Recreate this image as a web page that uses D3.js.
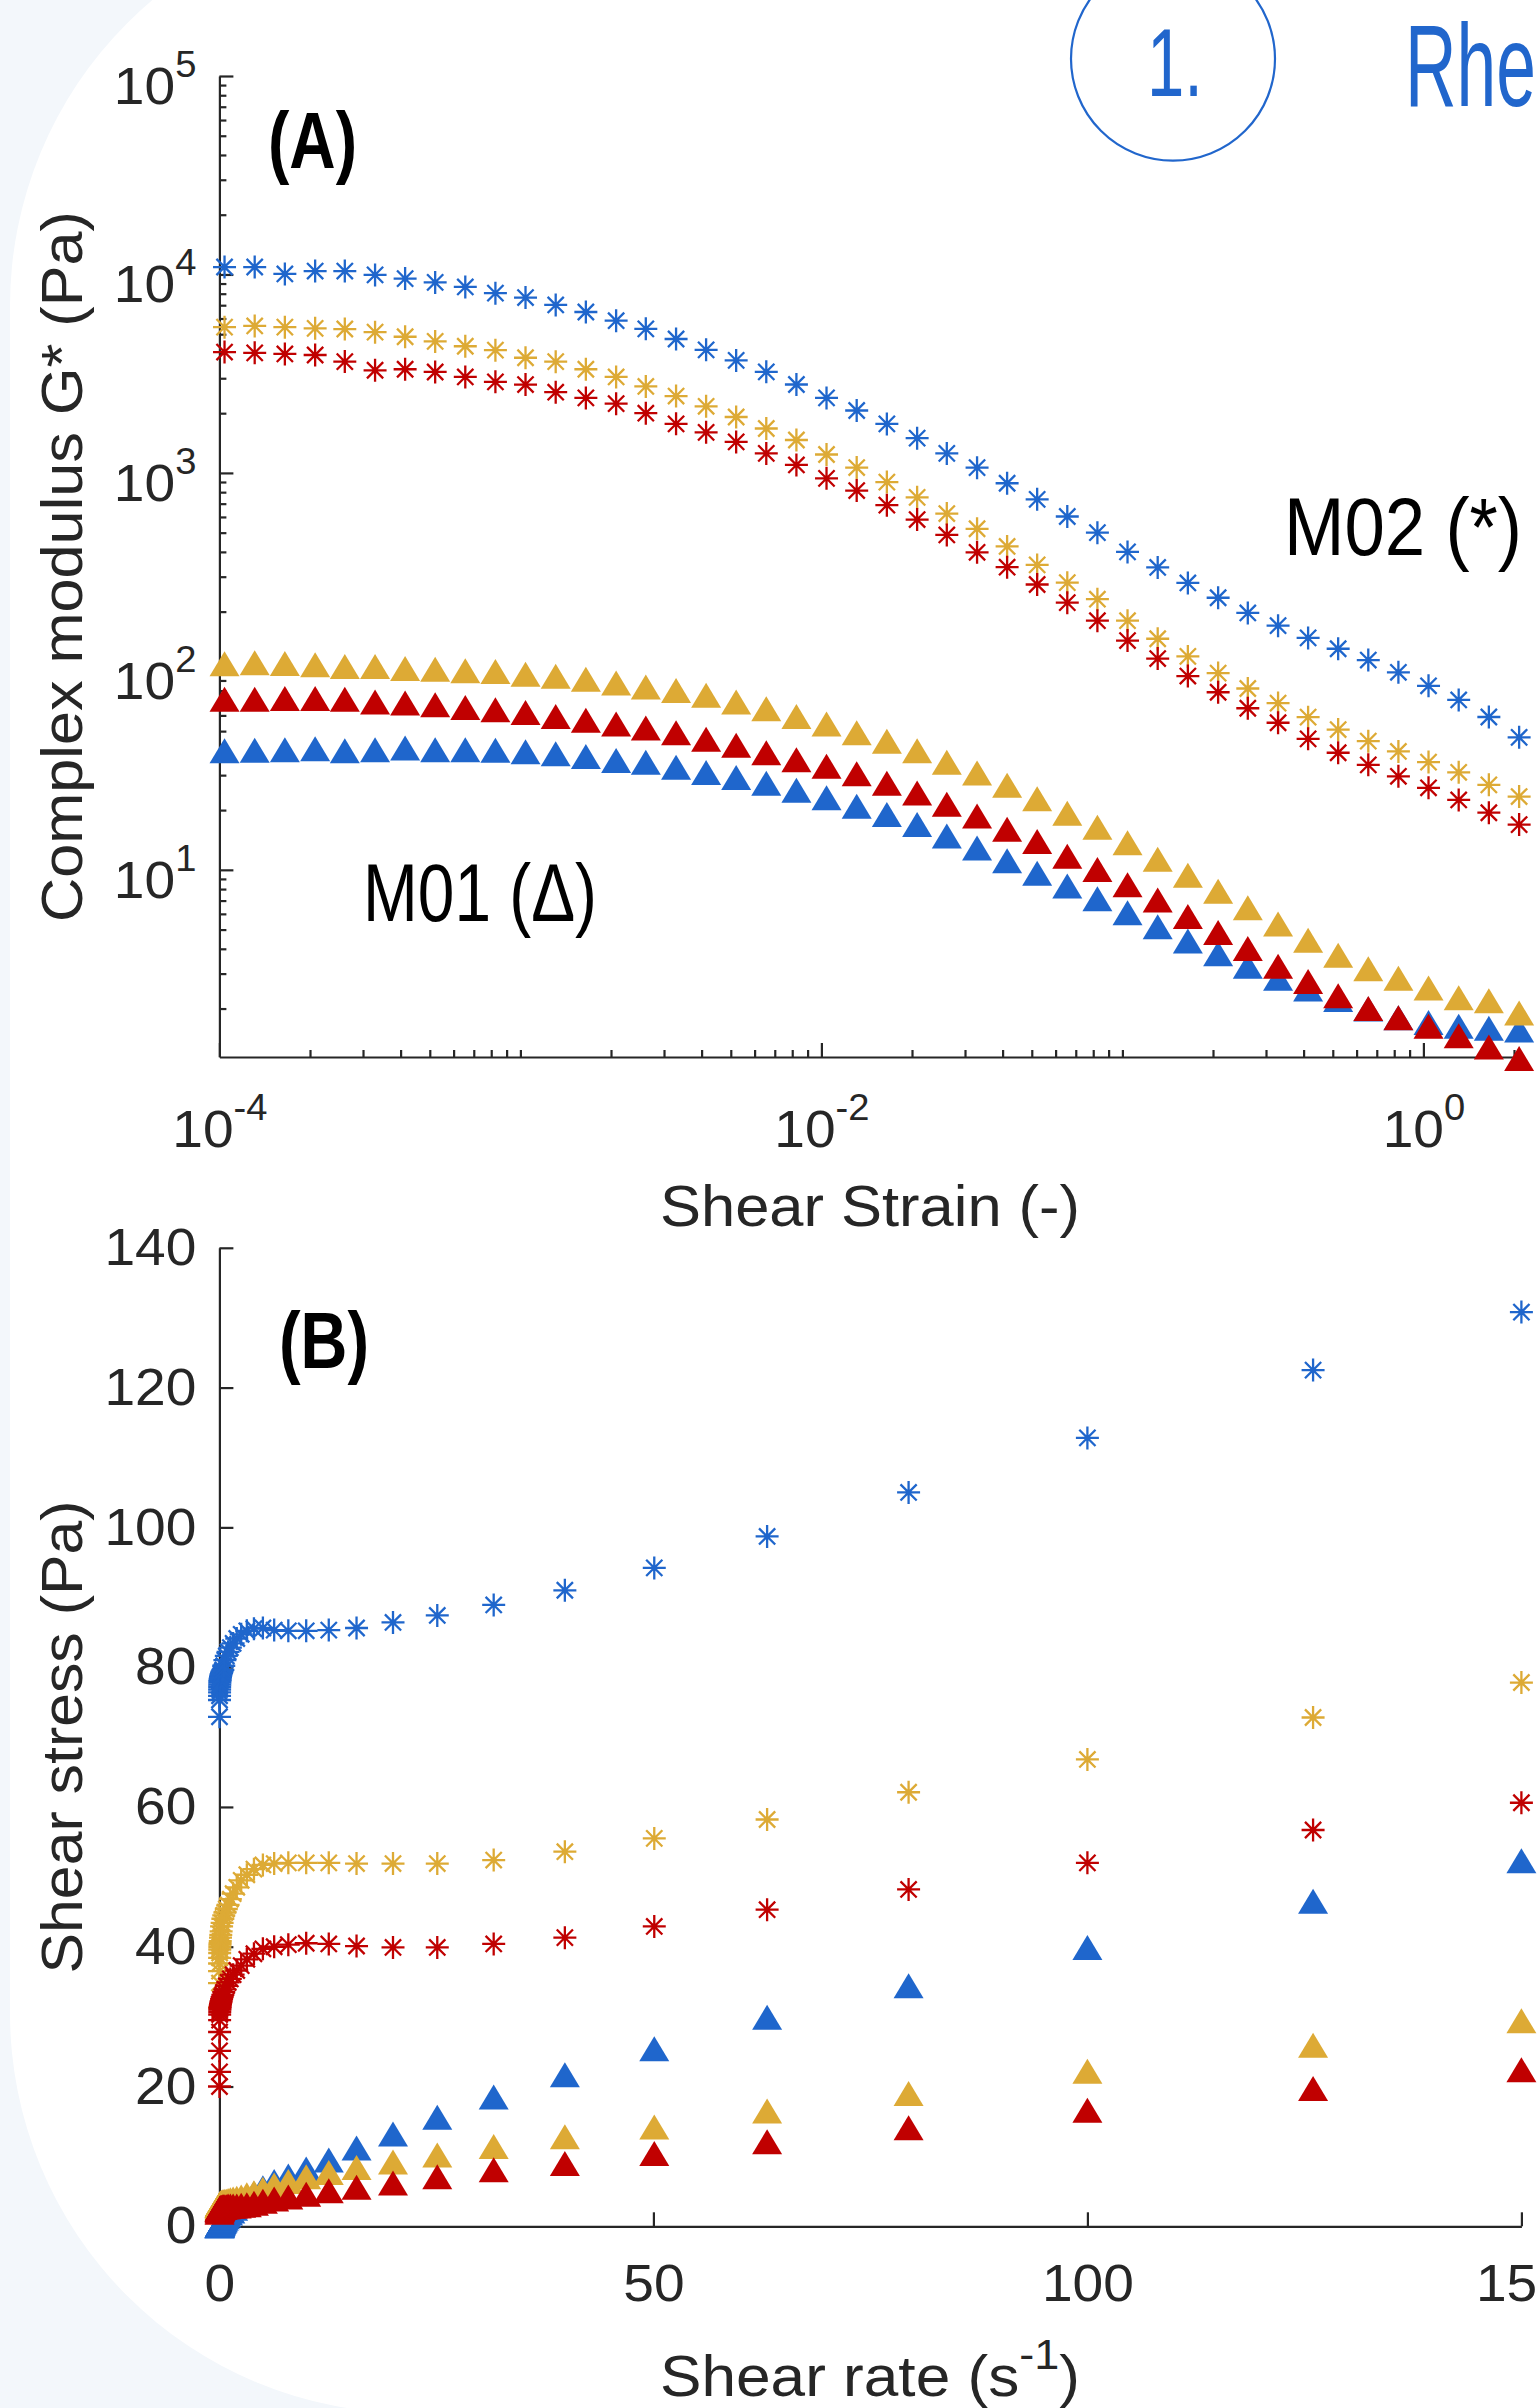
<!DOCTYPE html>
<html><head><meta charset="utf-8">
<script src="https://cdn.jsdelivr.net/npm/d3@7"></script>
<style>
html,body{margin:0;padding:0;background:#fff;overflow:hidden}
svg{display:block}
</style></head><body>
<svg id="chart" width="1539" height="2408"></svg>
<script>
// ---------------- DATA ----------------
// Panel A: amplitude sweep, complex modulus G* (Pa) vs shear strain (-)
const strainA = [1.04e-4,1.31e-4,1.65e-4,2.08e-4,2.61e-4,3.29e-4,4.14e-4,5.21e-4,6.56e-4,8.26e-4,
  1.04e-3,1.31e-3,1.65e-3,2.08e-3,2.61e-3,3.29e-3,4.14e-3,5.21e-3,6.56e-3,8.26e-3,
  0.0104,0.0131,0.0165,0.0208,0.0261,0.0329,0.0414,0.0521,0.0656,0.0826,
  0.104,0.131,0.165,0.208,0.261,0.329,0.414,0.521,0.656,0.826,
  1.04,1.31,1.65,2.08];
const gM02Blue = [10900,10900,10060,10400,10400,9950,9530,9120,8650,8050,
  7650,7020,6470,5850,5320,4730,4170,3690,3230,2790,
  2388,2063,1766,1497,1254,1063,887,736,603,500,
  400,334,279,235,197,170,147.5,130,114,98.9,
  84.6,71.8,58.9,46.5];
const gM02Yellow = [5426,5504,5426,5352,5309,5121,4853,4600,4348,4155,
  3805,3636,3329,3045,2727,2440,2166,1913,1674,1465,
  1238,1064,899,753,624,523,426,344,280,231,
  180,146,119,98,82,69.2,58.8,50.9,44.5,39.5,
  34.9,31.0,26.8,23.4];
const gM02Red = [4064,4027,3977,3927,3638,3290,3329,3226,3045,2877,
  2788,2551,2388,2234,2000,1767,1601,1433,1254,1097,
  939,815,688,582,487,398,335,274,222,180,
  143,116,94.7,78.5,65.2,55.1,45.7,38.9,33.8,29.6,
  25.9,22.5,19.4,16.9];
const gM01Blue = [39.8,40.1,40.3,40.7,39.8,40.3,41.1,40.3,40.3,40.1,
  39.3,38.4,37.2,35.6,34.8,32.9,30.9,29.2,27.3,25.2,
  23.1,20.9,19.0,16.9,14.8,12.9,11.1,9.6,8.3,7.14,
  6.08,5.16,4.38,3.78,3.27,2.84,2.51,2.22,1.99,1.80,
  1.70,1.63,1.59,1.56];
const gM01Yellow = [109.1,110.5,109.5,108.1,105.7,105.7,103.4,102.5,100.7,99.8,
  96.7,94.6,91.3,87.3,83.5,80.0,75.8,70.0,64.9,59.3,
  54.3,49.1,44.5,39.8,34.8,30.8,26.7,22.8,19.3,16.4,
  13.7,11.3,9.40,7.80,6.45,5.33,4.42,3.71,3.17,2.84,
  2.54,2.27,2.19,1.90];
const gM01Red = [72.4,72.4,73.1,73.1,72.4,70.0,69.3,67.8,65.7,64.0,
  62.1,59.3,56.8,54.3,51.9,49.1,45.5,42.5,38.9,35.9,
  33.3,30.5,27.3,24.4,21.4,18.7,16.0,13.9,11.7,10.05,
  8.41,7.05,5.82,4.83,4.01,3.27,2.74,2.32,2.00,1.80,
  1.63,1.46,1.28,1.12];

// Panel B: flow curve, shear stress (Pa) vs shear rate (1/s)
const shearRate = [0.01,0.0126,0.0158,0.02,0.0251,0.0316,0.0398,0.0501,0.0631,0.0794,
  0.1,0.126,0.158,0.2,0.251,0.316,0.398,0.501,0.631,0.794,
  1.0,1.26,1.58,2.0,2.51,3.16,3.98,5.01,6.31,7.94,
  10,12.6,15.8,20,25.1,31.6,39.8,50.1,63.1,79.4,
  100,126,150];
const tauM02Blue = [72.9,75.3,75.9,76.4,76.8,77.2,77.5,77.8,78.0,78.2,
  78.4,78.6,78.8,79.0,79.2,79.4,79.6,80.2,81.0,81.6,
  82.2,82.8,83.4,84.1,84.7,85.2,85.5,85.6,85.3,85.2,
  85.2,85.3,85.6,86.4,87.4,88.9,91.0,94.2,98.7,105.0,
  112.8,122.5,130.8];
const tauM02Yellow = [31.3,34.8,36.5,37.6,38.4,39.1,39.6,40.0,40.3,40.5,
  40.8,41.3,41.7,42.2,42.9,43.4,44.0,44.5,44.9,45.4,
  46.0,46.8,47.6,48.5,49.5,50.3,51.1,51.7,51.9,52.0,
  52.0,52.0,51.9,51.9,51.9,52.4,53.6,55.5,58.2,62.1,
  66.8,72.8,77.8];
const tauM02Red = [20.0,22.1,25.1,27.8,29.5,30.3,30.7,31.0,31.2,31.4,
  31.6,31.8,32.0,32.2,32.5,32.8,33.1,33.5,33.9,34.4,
  34.9,35.4,36.0,36.6,37.3,38.2,39.0,39.7,40.0,40.3,
  40.5,40.4,40.1,39.9,39.9,40.4,41.3,42.9,45.3,48.2,
  52.0,56.7,60.6];
const tauM01Blue = [0.07,0.08,0.09,0.11,0.13,0.15,0.18,0.21,0.25,0.29,
  0.34,0.40,0.48,0.57,0.68,0.80,0.95,1.15,1.35,1.6,
  1.9,2.2,2.6,3.1,3.6,4.2,4.7,5.5,6.4,7.2,
  8.2,9.5,11.2,13.2,15.6,18.5,21.7,25.4,29.9,34.4,
  39.9,46.5,52.3];
const tauM01Yellow = [2.6,2.8,2.9,3.0,3.0,3.1,3.1,3.2,3.2,3.2,
  3.3,3.3,3.3,3.4,3.4,3.4,3.5,3.5,3.6,3.6,
  3.7,3.8,3.9,4.0,4.2,4.5,4.8,5.3,5.9,6.4,
  7.1,7.7,8.4,9.2,10.2,11.4,12.8,14.2,16.5,19.0,
  22.2,25.9,29.4];
const tauM01Red = [2.0,2.2,2.3,2.4,2.4,2.5,2.5,2.5,2.6,2.6,
  2.6,2.6,2.7,2.7,2.7,2.7,2.8,2.8,2.8,2.8,
  2.9,2.9,2.9,2.9,3.0,3.1,3.3,3.6,3.9,4.2,
  4.6,5.1,5.6,6.2,7.1,8.1,9.0,10.4,12.1,14.1,
  16.6,19.7,22.4];

// axis limits and ticks
const strainLimits = [1e-4, 2.11];
const modulusLimits = [1.14, 1e5];
const strainTicks = [1e-4, 1e-2, 1];
const modulusTicks = [10, 100, 1000, 1e4, 1e5];
const rateLimits = [0, 150];
const stressLimits = [0, 140];
const rateTicks = [0, 50, 100, 150];
const stressTicks = [0, 20, 40, 60, 80, 100, 120, 140];

// texts
const panelLabels = ["(A)", "(B)"];
const groupLabels = ["M02 (*)", "M01 (\u0394)"];
const titleA_x = "Shear Strain (-)";
const titleA_y = "Complex modulus G* (Pa)";
const titleB_x = ["Shear rate (s", "-1", ")"];
const titleB_y = "Shear stress (Pa)";
const headerNumber = "1.";
const headerTitle = "Rhe";

// ---------------- STYLE ----------------
const W = 1539, H = 2408;
const AX = "#262626";
const COL = {blue: "#1f66cc", yellow: "#ddaa35", red: "#c00000"};
const HEAD = "#2166cc";
const SANS = "'Liberation Sans', Arial, Helvetica, sans-serif";

const svg = d3.select("#chart");

// background shape
svg.append("rect").attr("width", W).attr("height", H).attr("fill", "#f3f7fb");
svg.append("rect").attr("x", 10).attr("y", -94).attr("width", 2800).attr("height", 2507)
  .attr("rx", 400).attr("ry", 400).attr("fill", "#ffffff");

// condensed-looking text: font size chosen to match the width, then stretched vertically
function narrowText(x, y, txt, heightSize, width, opts) {
  const t = svg.append("text").attr("font-family", SANS).attr("font-size", heightSize)
    .attr("font-weight", opts.bold ? "bold" : "normal").attr("fill", opts.color)
    .attr("text-anchor", opts.anchor || "start").text(txt);
  const natural = t.node().getComputedTextLength();
  const fs = heightSize * width / natural;
  t.attr("font-size", fs).attr("transform", `translate(${x},${y}) scale(1,${(heightSize / fs).toFixed(4)})`);
  return t;
}

// header
svg.append("circle").attr("cx", 1173).attr("cy", 58.7).attr("r", 102)
  .attr("fill", "none").attr("stroke", HEAD).attr("stroke-width", 2.2);
narrowText(1175, 96, headerNumber, 96, 56, {color: HEAD, anchor: "middle"});
narrowText(1405, 106, headerTitle, 117, 131, {color: HEAD});

// scales
const xA = d3.scaleLog().domain(strainLimits).range([219.4, 1521]);
const yA = d3.scaleLog().domain(modulusLimits).range([1057, 76]);
const xB = d3.scaleLinear().domain(rateLimits).range([219.4, 1521.4]);
const yB = d3.scaleLinear().domain(stressLimits).range([2226.3, 1247.8]);

function stretch(sel, k) {
  sel.each(function () {
    const len = this.getComputedTextLength();
    d3.select(this).attr("textLength", len * k).attr("lengthAdjust", "spacingAndGlyphs");
  });
}
function styleAxis(g) {
  g.style("color", AX).attr("font-family", SANS).attr("font-size", 52);
  g.select(".domain").attr("stroke-width", 2.2);
  g.selectAll(".tick line").attr("stroke-width", 2.2);
}
function minorLog(domain) {
  const out = [];
  const e0 = Math.floor(Math.log10(domain[0])), e1 = Math.ceil(Math.log10(domain[1]));
  for (let e = e0; e <= e1; e++) for (let m = 1; m <= 9; m++) {
    const v = m * Math.pow(10, e);
    if (v >= domain[0] * 0.999 && v <= domain[1] * 1.001) out.push(v);
  }
  return out;
}
function powLabel(textSel, baseY) {
  textSel.attr("dy", null).attr("y", baseY).each(function (d) {
    const t = d3.select(this); t.text(null);
    t.append("tspan").text("10");
    t.append("tspan").attr("dy", -27).attr("font-size", 36).text(String(Math.round(Math.log10(d))));
  });
}

// ---------- Panel A axes ----------
const gA = svg.append("g");
gA.append("g").attr("transform", `translate(0,${yA.range()[0]})`)
  .call(d3.axisBottom(xA).tickValues(minorLog(strainLimits).filter(v => !strainTicks.some(t => Math.abs(t - v) / t < 1e-6)))
    .tickSizeInner(-7).tickSizeOuter(0).tickFormat(() => ""))
  .call(styleAxis).call(g => g.select(".domain").remove());
gA.append("g").attr("transform", `translate(${xA.range()[0]},0)`)
  .call(d3.axisLeft(yA).tickValues(minorLog(modulusLimits).filter(v => !modulusTicks.some(t => Math.abs(t - v) / t < 1e-6)))
    .tickSizeInner(-7).tickSizeOuter(0).tickFormat(() => ""))
  .call(styleAxis).call(g => g.select(".domain").remove());
const axAx = gA.append("g").attr("transform", `translate(0,${yA.range()[0]})`)
  .call(d3.axisBottom(xA).tickValues(strainTicks).tickSizeInner(-14).tickSizeOuter(0).tickFormat(() => ""))
  .call(styleAxis);
powLabel(axAx.selectAll(".tick text"), 90);
const axAy = gA.append("g").attr("transform", `translate(${xA.range()[0]},0)`)
  .call(d3.axisLeft(yA).tickValues(modulusTicks).tickSizeInner(-14).tickSizeOuter(0).tickPadding(23).tickFormat(() => ""))
  .call(styleAxis);
powLabel(axAy.selectAll(".tick text"), 27.5);
stretch(axAx.selectAll(".tick text"), 1.06);
stretch(axAy.selectAll(".tick text"), 1.06);

// ---------- Panel B axes ----------
const gB = svg.append("g");
const axBx = gB.append("g").attr("transform", `translate(0,${yB.range()[0]})`)
  .call(d3.axisBottom(xB).tickValues(rateTicks).tickSizeInner(-14).tickSizeOuter(0).tickPadding(38))
  .call(styleAxis);
const axBy = gB.append("g").attr("transform", `translate(${xB.range()[0]},0)`)
  .call(d3.axisLeft(yB).tickValues(stressTicks).tickSizeInner(-14).tickSizeOuter(0).tickPadding(23))
  .call(styleAxis);
stretch(axBx.selectAll(".tick text"), 1.06);
stretch(axBy.selectAll(".tick text"), 1.06);

// ---------- axis titles ----------
function title(x, y, rot, txt, len) {
  const t = svg.append("text").attr("transform", `translate(${x},${y}) rotate(${rot})`)
    .attr("text-anchor", "middle").attr("font-family", SANS).attr("font-size", 58).attr("fill", AX);
  if (Array.isArray(txt)) {
    t.append("tspan").text(txt[0]);
    t.append("tspan").attr("dy", -27).attr("font-size", 42).text(txt[1]);
    t.append("tspan").attr("dy", 27).text(txt[2]);
  } else t.text(txt);
  t.attr("textLength", len).attr("lengthAdjust", "spacingAndGlyphs");
  return t;
}
title(870, 1226, 0, titleA_x, 420);
title(82, 566.5, -90, titleA_y, 711);
title(870, 2396, 0, titleB_x, 420);
title(82, 1737, -90, titleB_y, 473);

// ---------- panel / group labels ----------
narrowText(268, 168, panelLabels[0], 80, 89, {color: "#000", bold: true});
narrowText(279, 1368, panelLabels[1], 80, 90, {color: "#000", bold: true});
narrowText(1284, 555, groupLabels[0], 82, 238, {color: "#000"});
narrowText(363, 921, groupLabels[1], 82, 234, {color: "#000"});

// ---------- markers ----------
const STAR = "M-11.5,0H11.5M0,-11.5V11.5M-8.1,-8.1L8.1,8.1M-8.1,8.1L8.1,-8.1";
const TRI = "M0,-12.5L15,12.5L-15,12.5Z";
function drawSeries(xs, ys, xs_, ys_, color, marker) {
  svg.append("g").selectAll("path").data(ys.map((v, i) => [xs[i], v])).join("path")
    .attr("transform", d => `translate(${xs_(d[0]).toFixed(2)},${ys_(d[1]).toFixed(2)})`)
    .attr("d", marker === "star" ? STAR : TRI)
    .attr("fill", marker === "star" ? "none" : color)
    .attr("stroke", marker === "star" ? color : "none")
    .attr("stroke-width", 2.3);
}
const seriesA = [
  [gM01Blue, COL.blue, "tri"], [gM01Yellow, COL.yellow, "tri"], [gM01Red, COL.red, "tri"],
  [gM02Blue, COL.blue, "star"], [gM02Yellow, COL.yellow, "star"], [gM02Red, COL.red, "star"]
];
seriesA.forEach(s => drawSeries(strainA, s[0], xA, yA, s[1], s[2]));
const seriesB = [
  [tauM01Blue, COL.blue, "tri"], [tauM01Yellow, COL.yellow, "tri"], [tauM01Red, COL.red, "tri"],
  [tauM02Blue, COL.blue, "star"], [tauM02Yellow, COL.yellow, "star"], [tauM02Red, COL.red, "star"]
];
seriesB.forEach(s => drawSeries(shearRate, s[0], xB, yB, s[1], s[2]));
</script>
</body></html>
